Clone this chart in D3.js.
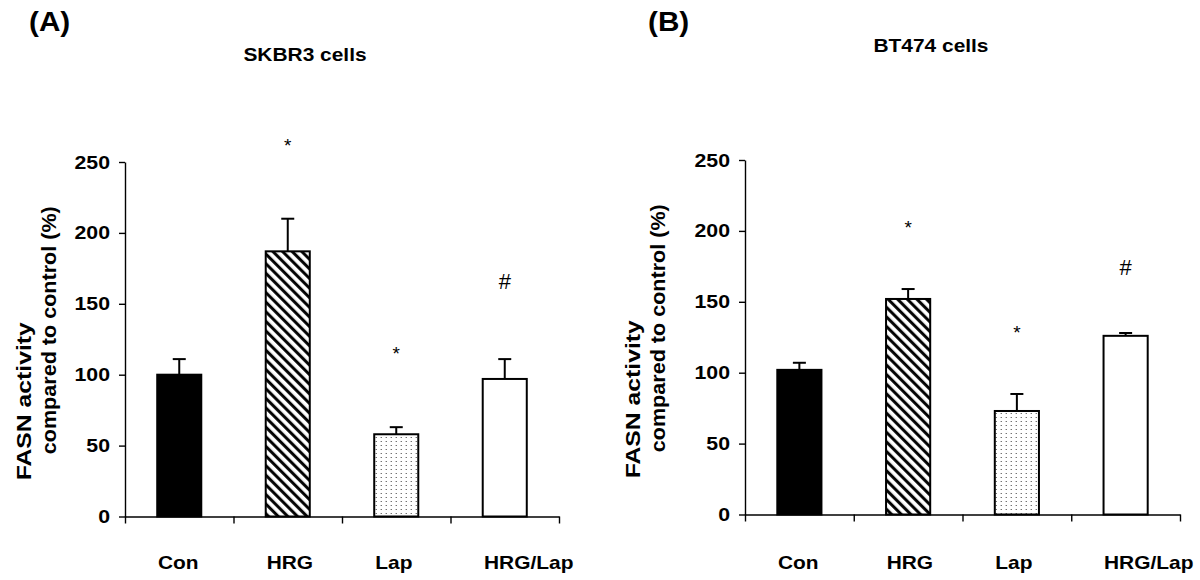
<!DOCTYPE html>
<html>
<head>
<meta charset="utf-8">
<script src="https://cdn.jsdelivr.net/npm/d3@7/dist/d3.min.js"></script>
<style>
  body { margin: 0; background: #fff; }
  svg { display: block; font-family: "Liberation Sans", Arial, sans-serif; }
</style>
</head>
<body>
<svg width="1200" height="580"></svg>
<script>
const svg_ = d3.select('svg');

// data
const categories = ["Con", "HRG", "Lap", "HRG/Lap"];
const skbr3Means = [100, 187, 58, 97];
const skbr3Errors = [11, 23, 5, 14];
const bt474Means = [102, 152, 73, 126];
const bt474Errors = [5, 7, 12, 2];
const marks = ["", "*", "*", "#"];
const yTicks = [0, 50, 100, 150, 200, 250];
const fills = ["#000", "url(#hatch)", "url(#dots)", "#fff"];

// the original lettering is a bit wider than Liberation Sans Bold
const WIDEN = 1.1;

// patterns
const defs = svg_.append("defs");

defs.append("pattern")
    .attr("id", "hatch")
    .attr("patternUnits", "userSpaceOnUse")
    .attr("width", 6.8)
    .attr("height", 6.8)
    .attr("patternTransform", "rotate(-45)")
    .call(p => {
        p.append("rect").attr("width", 6.8).attr("height", 6.8).attr("fill", "#fff");
        p.append("line")
            .attr("x1", 1.6).attr("x2", 1.6)
            .attr("y1", 0).attr("y2", 6.8)
            .attr("stroke", "#000")
            .attr("stroke-width", 3);
    });

defs.append("pattern")
    .attr("id", "dots")
    .attr("patternUnits", "userSpaceOnUse")
    .attr("width", 5)
    .attr("height", 8)
    .call(p => {
        p.append("rect").attr("width", 5).attr("height", 8).attr("fill", "#fff");
        p.append("circle").attr("cx", 1.2).attr("cy", 1.5).attr("r", 0.6).attr("fill", "#222");
        p.append("circle").attr("cx", 1.2).attr("cy", 5.5).attr("r", 0.6).attr("fill", "#222");
    });

const PANELS = [
    {
        letter: "(A)", letterX: 29, letterY: 31,
        title: "SKBR3 cells", titleX: 305, titleY: 61,
        left: 125, right: 559, bottom: 516.5, top: 162,
        ytitleX: [31, 56],
        markOffset: 78,
        means: skbr3Means, errors: skbr3Errors
    },
    {
        letter: "(B)", letterX: 648, letterY: 31,
        title: "BT474 cells", titleX: 931, titleY: 52,
        left: 745, right: 1180, bottom: 514.5, top: 160,
        ytitleX: [640, 665],
        markOffset: 66,
        means: bt474Means, errors: bt474Errors
    }
];

PANELS.forEach(P => drawPanel(P));

function widen(sel, f) {
    sel.each(function () {
        const len = this.getComputedTextLength();
        d3.select(this)
            .attr("textLength", len * f)
            .attr("lengthAdjust", "spacingAndGlyphs");
    });
}

function drawPanel(P) {

    const g = svg_.append("g");

    const x = d3.scaleBand()
        .domain(categories)
        .range([P.left, P.right])
        .paddingInner(0.594)
        .paddingOuter(0.297);

    const y = d3.scaleLinear()
        .domain([0, 250])
        .range([P.bottom, P.top]);

    const rows = categories.map((c, i) => ({
        cat: c, mean: P.means[i], err: P.errors[i], fill: fills[i], mark: marks[i]
    }));

    // y axis
    const yAxis = g.append("g")
        .attr("transform", `translate(${P.left},0)`)
        .call(d3.axisLeft(y).tickValues(yTicks).tickSize(6).tickSizeOuter(0).tickPadding(9));
    yAxis.selectAll("path, line").attr("stroke", "#000").attr("stroke-width", 1.4);
    yAxis.selectAll("text")
        .attr("fill", "#000")
        .attr("font-size", 19)
        .attr("font-weight", "bold")
        .attr("font-family", "Liberation Sans, Arial, sans-serif")
        .call(widen, 1.12);

    // x axis (ticks at band edges)
    const xEdges = d3.scaleLinear().domain([0, categories.length]).range([P.left, P.right]);
    const xAxis = g.append("g")
        .attr("transform", `translate(0,${P.bottom})`)
        .call(d3.axisBottom(xEdges).tickValues(d3.range(categories.length + 1)).tickFormat("").tickSize(7).tickSizeOuter(0));
    xAxis.selectAll("path, line").attr("stroke", "#000").attr("stroke-width", 1.4);

    // category labels
    const xLab = d3.scalePoint()
        .domain(categories)
        .range([P.left + 33, P.left + 359]);
    g.selectAll(".xlab")
        .data(categories)
        .join("text")
        .attr("x", d => xLab(d))
        .attr("y", 569)
        .attr("font-size", 19)
        .attr("font-weight", "bold")
        .text(d => d)
        .call(widen, WIDEN);

    // bars
    g.selectAll(".bar")
        .data(rows)
        .join("rect")
        .attr("x", d => x(d.cat))
        .attr("y", d => y(d.mean))
        .attr("width", x.bandwidth())
        .attr("height", d => y(0) - y(d.mean))
        .attr("fill", d => d.fill)
        .attr("stroke", "#000")
        .attr("stroke-width", 2);

    // error bars (upper only)
    const eb = g.selectAll(".err")
        .data(rows)
        .join("g")
        .attr("stroke", "#000")
        .attr("stroke-width", 2);
    eb.append("line")
        .attr("x1", d => x(d.cat) + x.bandwidth() / 2)
        .attr("x2", d => x(d.cat) + x.bandwidth() / 2)
        .attr("y1", d => y(d.mean))
        .attr("y2", d => y(d.mean + d.err));
    eb.append("line")
        .attr("x1", d => x(d.cat) + x.bandwidth() / 2 - 6.5)
        .attr("x2", d => x(d.cat) + x.bandwidth() / 2 + 6.5)
        .attr("y1", d => y(d.mean + d.err))
        .attr("y2", d => y(d.mean + d.err));

    // significance marks
    g.selectAll(".mark")
        .data(rows.filter(d => d.mark))
        .join("text")
        .attr("x", d => x(d.cat) + x.bandwidth() / 2)
        .attr("y", d => {
            const fs = d.mark === "#" ? 22 : 19;
            const k = d.mark === "#" ? 0.36 : 0.57;
            return y(d.mean + d.err) - P.markOffset + k * fs;
        })
        .attr("text-anchor", "middle")
        .attr("font-size", d => d.mark === "#" ? 22 : 19)
        .text(d => d.mark);

    // y title
    const yMid = (P.top + P.bottom) / 2;
    g.append("text")
        .attr("transform", `translate(${P.ytitleX[0]},${yMid + 62}) rotate(-90)`)
        .attr("text-anchor", "middle")
        .attr("font-size", 20)
        .attr("font-weight", "bold")
        .attr("textLength", 158)
        .attr("lengthAdjust", "spacingAndGlyphs")
        .text("FASN activity");
    g.append("text")
        .attr("transform", `translate(${P.ytitleX[1]},${yMid - 9}) rotate(-90)`)
        .attr("text-anchor", "middle")
        .attr("font-size", 20)
        .attr("font-weight", "bold")
        .attr("textLength", 248)
        .attr("lengthAdjust", "spacingAndGlyphs")
        .text("compared to control (%)");

    // titles
    g.append("text")
        .attr("x", P.letterX)
        .attr("y", P.letterY)
        .attr("font-size", 28)
        .attr("font-weight", "bold")
        .text(P.letter)
        .call(widen, 1.06);
    g.append("text")
        .attr("x", P.titleX)
        .attr("y", P.titleY)
        .attr("text-anchor", "middle")
        .attr("font-size", 19)
        .attr("font-weight", "bold")
        .text(P.title)
        .call(widen, WIDEN);
}
</script>
</body>
</html>
